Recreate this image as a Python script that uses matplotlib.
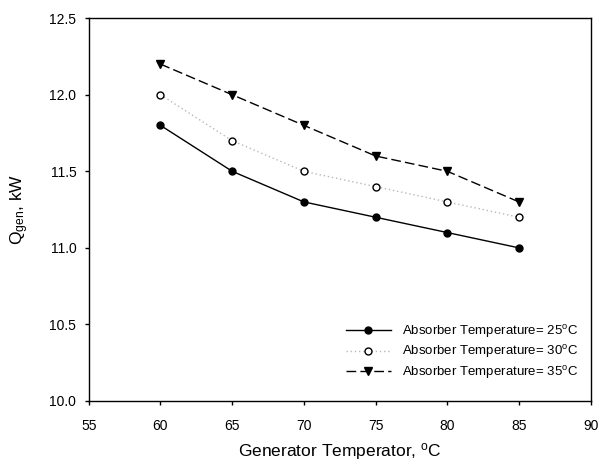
import matplotlib
matplotlib.use("Agg")
import matplotlib.pyplot as plt

plt.rcParams['font.family'] = ['Liberation Sans', 'DejaVu Sans']
plt.rcParams['mathtext.default'] = 'regular'

# Generator temperature (C)
gen_temp = [60, 65, 70, 75, 80, 85]

# Q_gen (kW) per absorber temperature
q_abs25 = [11.8, 11.5, 11.3, 11.2, 11.1, 11.0]
q_abs30 = [12.0, 11.7, 11.5, 11.4, 11.3, 11.2]
q_abs35 = [12.2, 12.0, 11.8, 11.6, 11.5, 11.3]

labels = ["Absorber Temperature= 25$^{o}$C",
          "Absorber Temperature= 30$^{o}$C",
          "Absorber Temperature= 35$^{o}$C"]

fig = plt.figure(figsize=(6.04, 4.66), dpi=100)
ax = fig.add_axes([0.147, 0.1395, 0.831, 0.8215])

ax.plot(gen_temp, q_abs25, color="black", linestyle="-", linewidth=1,
        marker="o", markersize=5, markerfacecolor="black", label=labels[0])
ax.plot(gen_temp, q_abs30, color="#b8b8b8", linestyle=(0, (1, 2)), linewidth=1,
        marker="o", markersize=5, markerfacecolor="white",
        markeredgecolor="black", markeredgewidth=1, label=labels[1])
ax.plot(gen_temp, q_abs35, color="black", linestyle=(0, (7, 3)), linewidth=1,
        marker="v", markersize=6, markerfacecolor="black", label=labels[2])

ax.set_xlim(55, 90)
ax.set_ylim(10.0, 12.5)
ax.set_xticks([55, 60, 65, 70, 75, 80, 85, 90])
ax.set_yticks([10.0, 10.5, 11.0, 11.5, 12.0, 12.5])
ax.yaxis.set_major_formatter(matplotlib.ticker.FormatStrFormatter('%.1f'))
ax.tick_params(direction="out", length=3, width=1, labelsize=10)
ax.tick_params(axis="x", pad=10)
ax.tick_params(axis="y", pad=6)
for s in ax.spines.values():
    s.set_linewidth(1)

ax.set_xlabel("Generator Temperator, $^{o}$C", fontsize=12.5, labelpad=6)
ax.set_ylabel("Q$_{gen}$, kW", fontsize=12.5, labelpad=13)

ax.legend(loc="upper right", bbox_to_anchor=(578 / 604, 1 - 323 / 466),
          bbox_transform=fig.transFigure, frameon=False, borderpad=0,
          borderaxespad=0, fontsize=9.5, handlelength=3.4,
          handletextpad=0.85, labelspacing=0.26)

fig.savefig("out.png", dpi=100)
